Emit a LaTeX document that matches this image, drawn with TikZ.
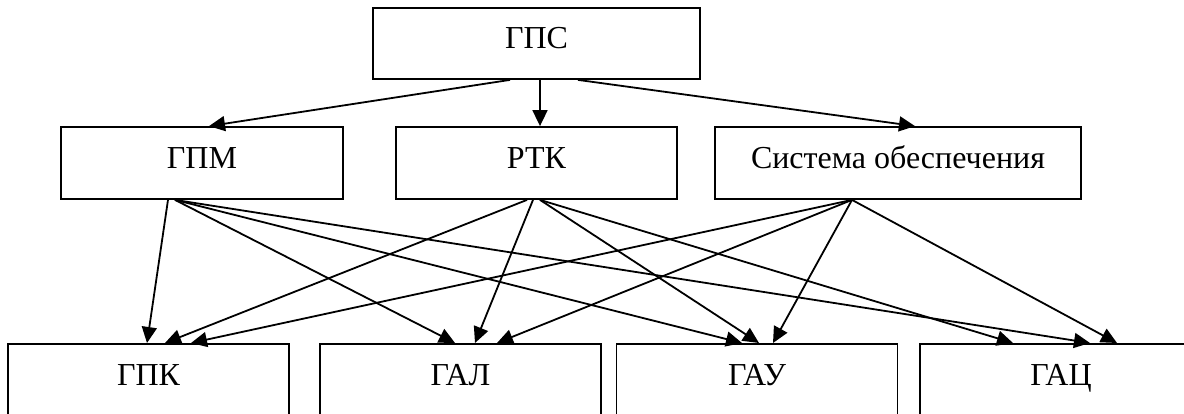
\documentclass[tikz,border=0pt]{standalone}
\usepackage{fontspec}
\setmainfont{Liberation Serif}
\usetikzlibrary{arrows.meta}

\tikzset{
	blk/.style={draw, line width=1.8pt, inner sep=0pt, text height=21pt, text depth=10pt},
	lowblk/.style={draw, line width=1.8pt, inner sep=0pt, anchor=north, minimum width=281pt, text height=42pt, text depth=100pt},
	arr/.style={line width=1.8pt, -{Triangle[length=16pt,width=15pt]}}
}

\begin{document}
\begin{tikzpicture}[x=1pt,y=-1pt,font=\fontsize{32}{38}\selectfont]
		\clip (0,0) rectangle (1184,414);
		\fill[white] (0,0) rectangle (1184,414);
		% upper levels
		\node[blk, minimum width=327pt, minimum height=71pt] (gps) at (536.5,43.5) {ГПС};
		\node[blk, minimum width=282pt, minimum height=72pt] (gpm) at (202,163) {ГПМ};
		\node[blk, minimum width=281pt, minimum height=72pt] (rtk) at (536.5,163) {РТК};
		\node[blk, minimum width=366pt, minimum height=72pt] (sys) at (898,163) {Система обеспечения};
		% lower level
		\node[lowblk] (gpk) at (148.5,343) {ГПК};
		\node[lowblk] (gal) at (460.5,343) {ГАЛ};
		\node[lowblk] (gau) at (757,343) {ГАУ};
		\node[lowblk, minimum width=282pt] (gac) at (1061,343) {ГАЦ};
		% from the top
		\draw[arr] ([xshift=-26.5pt]gps.south) -- ([xshift=7pt]gpm.north);
		\draw[arr] ([xshift=3.5pt]gps.south) -- ([xshift=3.5pt]rtk.north);
		\draw[arr] ([xshift=41.5pt]gps.south) -- ([xshift=17pt]sys.north);
		% from ГПМ
		\draw[arr] ([xshift=-34pt]gpm.south) -- ([xshift=-1.5pt]gpk.north);
		\draw[arr] ([xshift=-27pt]gpm.south) -- ([xshift=-5.5pt]gal.north);
		\draw[arr] ([xshift=-27pt]gpm.south) -- ([xshift=-15pt]gau.north);
		\draw[arr] ([xshift=-27pt]gpm.south) -- ([xshift=29pt]gac.north);
		% from РТК
		\draw[arr] ([xshift=-9.5pt]rtk.south) -- ([xshift=16.5pt]gpk.north);
		\draw[arr] ([xshift=-3.5pt]rtk.south) -- ([xshift=14.5pt]gal.north);
		\draw[arr] ([xshift=3.5pt]rtk.south) -- ([xshift=2pt]gau.north);
		\draw[arr] ([xshift=3.5pt]rtk.south) -- ([xshift=-48pt]gac.north);
		% from Система обеспечения
		\draw[arr] ([xshift=-46pt]sys.south) -- ([xshift=42.5pt]gpk.north);
		\draw[arr] ([xshift=-46pt]sys.south) -- ([xshift=36.5pt]gal.north);
		\draw[arr] ([xshift=-46pt]sys.south) -- ([xshift=16pt]gau.north);
		\draw[arr] ([xshift=-46pt]sys.south) -- ([xshift=56pt]gac.north);
\end{tikzpicture}
\end{document}
